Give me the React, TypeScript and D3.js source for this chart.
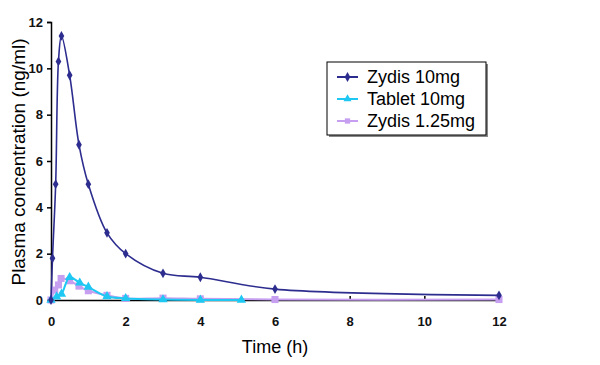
import React, { useEffect, useRef } from "react";
import * as d3 from "d3";

// time points (h) and plasma concentrations (ng/ml)
const zydis10Time = [0, 0.04, 0.125, 0.2, 0.28, 0.5, 0.75, 1, 1.5, 2, 3, 4, 6, 12];
const zydis10Conc = [0, 1.8, 5.0, 10.3, 11.4, 9.7, 6.7, 5.0, 2.9, 2.0, 1.15, 0.98, 0.47, 0.2];

const tabletTime = [0, 0.15, 0.28, 0.5, 0.77, 1, 1.5, 2, 3, 4, 5.1];
const tabletConc = [0, 0.14, 0.26, 0.98, 0.74, 0.56, 0.15, 0.07, 0.02, 0.0, 0.0];

const zydis125Time = [0, 0.1, 0.2, 0.27, 0.5, 0.75, 1, 1.5, 2, 3, 4, 6, 12];
const zydis125Conc = [0, 0.43, 0.65, 0.93, 0.83, 0.6, 0.4, 0.2, 0.07, 0.08, 0.05, 0.02, 0.02];

const xTicks = [0, 2, 4, 6, 8, 10, 12];
const yTicks = [0, 2, 4, 6, 8, 10, 12];

const seriesNames = ["Zydis 10mg", "Tablet 10mg", "Zydis 1.25mg"];
const seriesColors = ["#2d2d8f", "#1ec8f2", "#c79ff0"];

const App: React.FC = () => {
  const svgRef = useRef<SVGSVGElement | null>(null);

  useEffect(() => {
    if (!svgRef.current) return;
    const svg = d3.select(svgRef.current);
    svg.selectAll("*").remove();

    const font = "'Liberation Sans', Arial, sans-serif";
    const x = d3.scaleLinear().domain([0, 12]).range([51, 499]);
    const y = d3.scaleLinear().domain([0, 12]).range([300, 22]);

    // axes
    const yAxis = svg.append("g")
      .attr("transform", `translate(${x(0)},0)`)
      .call(d3.axisLeft(y).tickValues(yTicks).tickSize(4).tickPadding(4).tickFormat(d3.format("d")));
    yAxis.select(".domain").attr("stroke", "#000").attr("stroke-width", 1.5);
    yAxis.selectAll("line").attr("stroke", "#000").attr("stroke-width", 1.5);
    yAxis.selectAll("text")
      .style("font-family", font).style("font-size", "13px").style("font-weight", "bold").attr("fill", "#111");

    const xAxis = svg.append("g")
      .attr("transform", `translate(0,${y(0)})`)
      .call(d3.axisBottom(x).tickValues(xTicks).tickSizeInner(-4).tickSizeOuter(0).tickPadding(17).tickFormat(d3.format("d")));
    xAxis.select(".domain").attr("stroke", "#000").attr("stroke-width", 1.5);
    xAxis.selectAll("line").attr("stroke", "#000").attr("stroke-width", 1.5);
    xAxis.selectAll("text")
      .style("font-family", font).style("font-size", "13px").style("font-weight", "bold").attr("fill", "#111");

    // axis titles
    svg.append("text")
      .attr("x", 275).attr("y", 353)
      .attr("text-anchor", "middle")
      .style("font-family", font).style("font-size", "18px")
      .text("Time (h)");
    svg.append("text")
      .attr("transform", `translate(25,162) rotate(-90)`)
      .attr("text-anchor", "middle")
      .style("font-family", font).style("font-size", "19px")
      .text("Plasma concentration (ng/ml)");

    const line = d3.line<[number, number]>()
      .x((d) => x(d[0]))
      .y((d) => y(d[1]))
      .curve(d3.curveCatmullRom.alpha(0.5));

    const series = [
      { t: zydis125Time, c: zydis125Conc, color: seriesColors[2], sym: d3.symbolSquare, size: 50, w: 2 },
      { t: tabletTime, c: tabletConc, color: seriesColors[1], sym: d3.symbolTriangle, size: 38, w: 2 },
      { t: zydis10Time, c: zydis10Conc, color: seriesColors[0], sym: d3.symbolDiamond, size: 28, w: 1.6 },
    ];

    series.forEach((s) => {
      const pts: [number, number][] = s.t.map((t, i) => [t, s.c[i]]);
      svg.append("path")
        .attr("d", line(pts) || "")
        .attr("fill", "none")
        .attr("stroke", s.color)
        .attr("stroke-width", s.w);
      svg.append("g").selectAll("path")
        .data(pts)
        .join("path")
        .attr("transform", (d) => `translate(${x(d[0])},${y(d[1])})`)
        .attr("d", d3.symbol().type(s.sym).size(s.size)() || "")
        .attr("fill", s.color);
    });

    // legend
    const lg = svg.append("g").attr("transform", "translate(327,62)");
    lg.append("rect").attr("x", 2).attr("y", 2).attr("width", 159).attr("height", 73).attr("fill", "#888");
    lg.append("rect").attr("x", 0).attr("y", 0).attr("width", 159).attr("height", 73)
      .attr("fill", "#fff").attr("stroke", "#000").attr("stroke-width", 1);
    const legendSyms = [d3.symbolDiamond, d3.symbolTriangle, d3.symbolSquare];
    seriesNames.forEach((name, i) => {
      const cy = 15 + i * 22;
      lg.append("line").attr("x1", 10).attr("x2", 31).attr("y1", cy).attr("y2", cy)
        .attr("stroke", seriesColors[i]).attr("stroke-width", 2);
      lg.append("path").attr("transform", `translate(20.5,${cy})`)
        .attr("d", d3.symbol().type(legendSyms[i]).size(28)() || "")
        .attr("fill", seriesColors[i]);
      lg.append("text").attr("x", 40).attr("y", cy + 6)
        .style("font-family", font).style("font-size", "18px")
        .text(name);
    });
  }, []);

  return (
    <svg ref={svgRef} width={600} height={365}
      style={{ position: "absolute", left: 0, top: 0, background: "#fff" }} />
  );
};

export default App;
